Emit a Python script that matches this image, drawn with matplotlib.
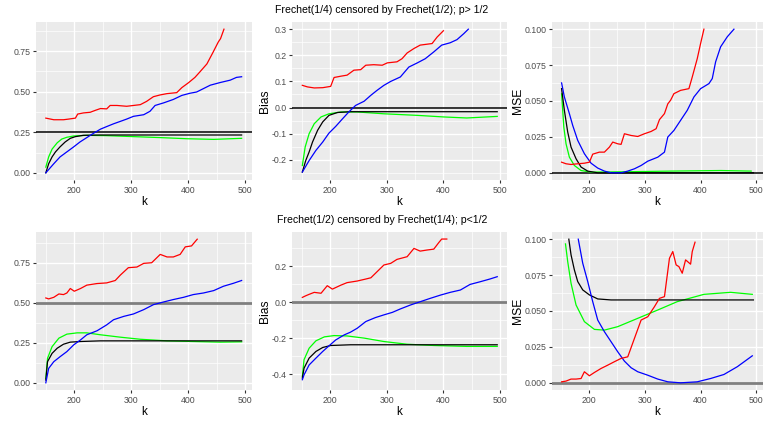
import numpy as np
import matplotlib
matplotlib.use('Agg')
import matplotlib.pyplot as plt
from matplotlib.ticker import FixedLocator, FormatStrFormatter

plt.rcParams['font.family'] = ['Liberation Sans', 'DejaVu Sans']

# ---- top row: Frechet(1/4) censored by Frechet(1/2)
tl_red_k = [150,164,181,190,202,206,216,228,237,246,257,263,275,292,304,316,327,339,351,363,380,389,401,412,421,433,444,453,457,463]
tl_red = [0.337,0.327,0.327,0.331,0.337,0.362,0.369,0.373,0.385,0.396,0.394,0.415,0.415,0.41,0.415,0.42,0.44,0.469,0.48,0.488,0.494,0.525,0.556,0.588,0.623,0.671,0.744,0.806,0.827,0.885]
tl_blue_k = [150,164,175,187,199,210,222,234,246,257,269,281,292,304,322,333,342,357,374,389,403,415,427,439,456,474,485,494]
tl_blue = [0,0.056,0.098,0.129,0.16,0.19,0.217,0.244,0.269,0.285,0.302,0.317,0.331,0.348,0.358,0.379,0.415,0.431,0.452,0.477,0.49,0.498,0.519,0.54,0.556,0.571,0.588,0.592]
tl_black_k = [150,155,161,167,175,184,193,202,216,246,304,494]
tl_black = [0,0.056,0.098,0.129,0.16,0.19,0.2125,0.223,0.231,0.233,0.233,0.233]
tl_green_k = [150,155,161,170,178,187,199,222,257,304,351,398,445,494]
tl_green = [0.035,0.098,0.146,0.185,0.208,0.219,0.227,0.231,0.229,0.223,0.217,0.21,0.206,0.2125]

tm_red_k = [151,160,172,187,201,207,219,230,242,254,263,277,292,301,318,327,336,348,359,380,389,400]
tm_red = [0.085,0.079,0.075,0.076,0.081,0.115,0.12,0.124,0.143,0.145,0.162,0.164,0.162,0.171,0.175,0.187,0.209,0.226,0.239,0.245,0.27,0.294]
tm_blue_k = [151,163,175,187,198,210,222,233,245,260,272,283,295,307,324,339,354,368,383,397,412,424,436,444]
tm_blue = [-0.247,-0.203,-0.164,-0.132,-0.098,-0.072,-0.043,-0.017,0.008,0.024,0.047,0.066,0.085,0.1,0.117,0.155,0.171,0.187,0.213,0.239,0.248,0.26,0.283,0.3]
tm_black_k = [151,157,163,169,178,187,198,213,236,495]
tm_black = [-0.247,-0.203,-0.17,-0.132,-0.087,-0.055,-0.03,-0.019,-0.016,-0.016]
tm_green_k = [151,156,163,172,184,198,219,248,295,354,400,441,495]
tm_green = [-0.222,-0.151,-0.1,-0.062,-0.036,-0.024,-0.017,-0.017,-0.024,-0.03,-0.036,-0.04,-0.034]

tr_red_k = [150,158,167,179,191,200,206,218,227,236,242,251,257,263,275,287,299,311,320,326,335,341,346,352,364,379,385,394,400,406]
tr_red = [0.0074,0.0063,0.0058,0.0063,0.0067,0.0074,0.013,0.0144,0.0144,0.0179,0.0214,0.0202,0.0198,0.0272,0.026,0.0253,0.0272,0.0288,0.0307,0.037,0.0412,0.048,0.0505,0.0551,0.0574,0.0586,0.0667,0.0795,0.09,0.1]
tr_blue_k = [150,155,164,170,179,191,203,215,227,239,257,269,281,293,305,323,335,341,352,364,376,388,400,415,421,427,436,448,460]
tr_blue = [0.0626,0.0528,0.0412,0.033,0.0226,0.0133,0.0067,0.0033,0.0012,0.0,0.0,0.0012,0.0028,0.0051,0.0081,0.0109,0.0144,0.0249,0.0295,0.0365,0.0435,0.0528,0.0586,0.0621,0.0656,0.0772,0.0877,0.0947,0.1]
tr_black_k = [150,155,161,167,176,185,197,215,495]
tr_black = [0.0586,0.0435,0.0284,0.0179,0.0098,0.004,0.0012,0.0,0.0]
tr_green_k = [150,154,158,164,173,185,203,257,346,436,491]
tr_green = [0.055,0.0319,0.0202,0.0109,0.0051,0.0016,0.0005,0.0007,0.0012,0.0016,0.0012]

# ---- bottom row: Frechet(1/2) censored by Frechet(1/4)
bl_red_k = [150,155,164,173,181,187,193,200,211,222,240,257,272,281,295,310,322,336,351,363,374,386,395,406,416]
bl_red = [0.53,0.524,0.534,0.555,0.551,0.561,0.589,0.572,0.589,0.61,0.62,0.624,0.639,0.673,0.719,0.723,0.746,0.75,0.802,0.786,0.786,0.802,0.849,0.855,0.897]
bl_blue_k = [150,155,164,175,187,199,211,222,240,257,269,287,304,322,339,357,374,392,409,427,445,462,480,494]
bl_blue = [0,0.09,0.132,0.163,0.195,0.237,0.268,0.3,0.325,0.362,0.394,0.415,0.43,0.457,0.488,0.505,0.52,0.534,0.551,0.561,0.576,0.603,0.622,0.639]
bl_black_k = [150,153,161,170,181,193,211,246,494]
bl_black = [0.017,0.132,0.184,0.216,0.241,0.254,0.258,0.262,0.262]
bl_green_k = [150,153,161,173,187,205,222,246,281,316,363,409,456,494]
bl_green = [0.027,0.153,0.226,0.279,0.304,0.312,0.312,0.3,0.285,0.272,0.262,0.258,0.254,0.256]

bm_red_k = [151,157,163,172,184,195,204,219,230,248,263,272,283,295,307,318,336,348,359,371,383,392,397,406]
bm_red = [0.026,0.035,0.043,0.054,0.049,0.091,0.072,0.094,0.108,0.117,0.128,0.135,0.169,0.206,0.215,0.237,0.252,0.298,0.283,0.289,0.294,0.331,0.35,0.35]
bm_blue_k = [151,154,163,175,187,198,210,225,236,248,263,280,295,310,324,342,359,377,395,412,430,447,465,482,495]
bm_blue = [-0.431,-0.404,-0.349,-0.311,-0.274,-0.243,-0.21,-0.182,-0.167,-0.145,-0.108,-0.086,-0.071,-0.057,-0.038,-0.016,0.002,0.021,0.039,0.054,0.067,0.098,0.113,0.128,0.141]
bm_black_k = [151,154,163,175,187,201,236,495]
bm_black = [-0.422,-0.367,-0.311,-0.274,-0.252,-0.241,-0.237,-0.237]
bm_green_k = [151,154,163,175,190,207,230,260,295,336,383,441,495]
bm_green = [-0.413,-0.32,-0.256,-0.215,-0.193,-0.186,-0.188,-0.2,-0.219,-0.234,-0.241,-0.246,-0.246]

br_red_k = [150,158,167,176,185,191,200,209,221,233,245,257,269,281,293,305,317,326,335,344,350,356,361,367,373,382,385,390]
br_red = [0.0007,0.0012,0.0026,0.0026,0.003,0.0077,0.0049,0.0072,0.01,0.0123,0.0147,0.017,0.0181,0.0309,0.0437,0.046,0.053,0.0588,0.06,0.0867,0.0914,0.0821,0.0809,0.0763,0.0856,0.0826,0.0914,0.0979]
br_blue_k = [180,188,197,206,215,227,239,251,263,275,287,305,323,341,364,394,418,442,466,493]
br_blue = [0.1,0.0833,0.0705,0.0565,0.0437,0.0356,0.0286,0.0216,0.0151,0.0105,0.0077,0.0053,0.0026,0.0007,0.0,0.0007,0.003,0.0058,0.0112,0.0188]
br_black_k = [163,167,173,179,188,200,215,239,495]
br_black = [0.1,0.0891,0.0786,0.0705,0.0647,0.0612,0.0584,0.0577,0.0577]
br_green_k = [157,161,167,176,191,209,227,251,287,323,358,406,454,493]
br_green = [0.0967,0.0844,0.0693,0.0542,0.0426,0.0372,0.0367,0.0391,0.0449,0.0507,0.0565,0.0616,0.063,0.0616]

title_top = 'Frechet(1/4) censored by Frechet(1/2); p> 1/2'
title_bot = 'Frechet(1/2) censored by Frechet(1/4); p<1/2'

W, H = 768, 421
fig = plt.figure(figsize=(W/100, H/100), dpi=100)

def panel(px, py, pw, ph):
    # pixel box -> figure axes
    return fig.add_axes([px/W, 1-(py+ph)/H, pw/W, ph/H])

def style(ax, ylim, yticks, yfmt, ylabel=None):
    ax.set_facecolor('#EBEBEB')
    ax.set_xlim(132.75, 512.25)
    ax.set_ylim(*ylim)
    ax.xaxis.set_major_locator(FixedLocator([200, 300, 400, 500]))
    ax.xaxis.set_minor_locator(FixedLocator([150, 250, 350, 450]))
    ax.yaxis.set_major_locator(FixedLocator(yticks))
    step = yticks[1] - yticks[0]
    ax.yaxis.set_minor_locator(FixedLocator([t + step/2 for t in [yticks[0]-step] + list(yticks)]))
    ax.yaxis.set_major_formatter(FormatStrFormatter(yfmt))
    ax.grid(which='major', color='white', lw=1.0)
    ax.grid(which='minor', color='white', lw=0.5)
    ax.set_axisbelow(True)
    for s in ax.spines.values():
        s.set_visible(False)
    ax.tick_params(which='major', length=2.5, color='#333333', labelsize=6.3,
                   labelcolor='#4D4D4D', pad=1.5)
    ax.tick_params(which='minor', length=0)
    ax.set_xlabel('k', fontsize=8.5, labelpad=1)
    if ylabel:
        ax.set_ylabel(ylabel, fontsize=8.7, labelpad=0.5)

def curves(ax, red, blue, black, green, href, hcol, hlw):
    ax.axhline(href, color=hcol, lw=hlw, zorder=2)
    ax.plot(green[0], green[1], color='#00FF00', lw=0.9, zorder=3)
    ax.plot(black[0], black[1], color='black', lw=0.9, zorder=3)
    ax.plot(blue[0], blue[1], color='blue', lw=0.9, zorder=3)
    ax.plot(red[0], red[1], color='red', lw=0.9, zorder=3)

top_y, bot_y, ph = 22, 232, 158
cols = [(36, 216), (292, 215), (552, 211)]

ax = panel(cols[0][0], top_y, cols[0][1], ph)
style(ax, (-0.0443, 0.9293), [0, 0.25, 0.5, 0.75], '%.2f')
curves(ax, (tl_red_k, tl_red), (tl_blue_k, tl_blue), (tl_black_k, tl_black), (tl_green_k, tl_green), 0.25, 'black', 1.1)

ax = panel(cols[1][0], top_y, cols[1][1], ph)
style(ax, (-0.2775, 0.3275), [-0.2, -0.1, 0.0, 0.1, 0.2, 0.3], '%.1f', 'Bias')
curves(ax, (tm_red_k, tm_red), (tm_blue_k, tm_blue), (tm_black_k, tm_black), (tm_green_k, tm_green), 0.0, 'black', 1.1)

ax = panel(cols[2][0], top_y, cols[2][1], ph)
style(ax, (-0.005, 0.105), [0, 0.025, 0.05, 0.075, 0.1], '%.3f', 'MSE')
curves(ax, (tr_red_k, tr_red), (tr_blue_k, tr_blue), (tr_black_k, tr_black), (tr_green_k, tr_green), 0.0, 'black', 1.1)

ax = panel(cols[0][0], bot_y, cols[0][1], ph)
style(ax, (-0.0449, 0.9419), [0, 0.25, 0.5, 0.75], '%.2f')
curves(ax, (bl_red_k, bl_red), (bl_blue_k, bl_blue), (bl_black_k, bl_black), (bl_green_k, bl_green), 0.5, '#7F7F7F', 2.0)

ax = panel(cols[1][0], bot_y, cols[1][1], ph)
style(ax, (-0.4881, 0.3891), [-0.4, -0.2, 0.0, 0.2], '%.1f', 'Bias')
curves(ax, (bm_red_k, bm_red), (bm_blue_k, bm_blue), (bm_black_k, bm_black), (bm_green_k, bm_green), 0.0, '#7F7F7F', 2.0)

ax = panel(cols[2][0], bot_y, cols[2][1], ph)
style(ax, (-0.005, 0.105), [0, 0.025, 0.05, 0.075, 0.1], '%.3f', 'MSE')
curves(ax, (br_red_k, br_red), (br_blue_k, br_blue), (br_black_k, br_black), (br_green_k, br_green), 0.0, '#7F7F7F', 2.0)

fig.text(382/W, 1-10/H, title_top, ha='center', va='center', fontsize=7.6)
fig.text(382/W, 1-220/H, title_bot, ha='center', va='center', fontsize=7.6)

fig.savefig('out.png', dpi=100)
